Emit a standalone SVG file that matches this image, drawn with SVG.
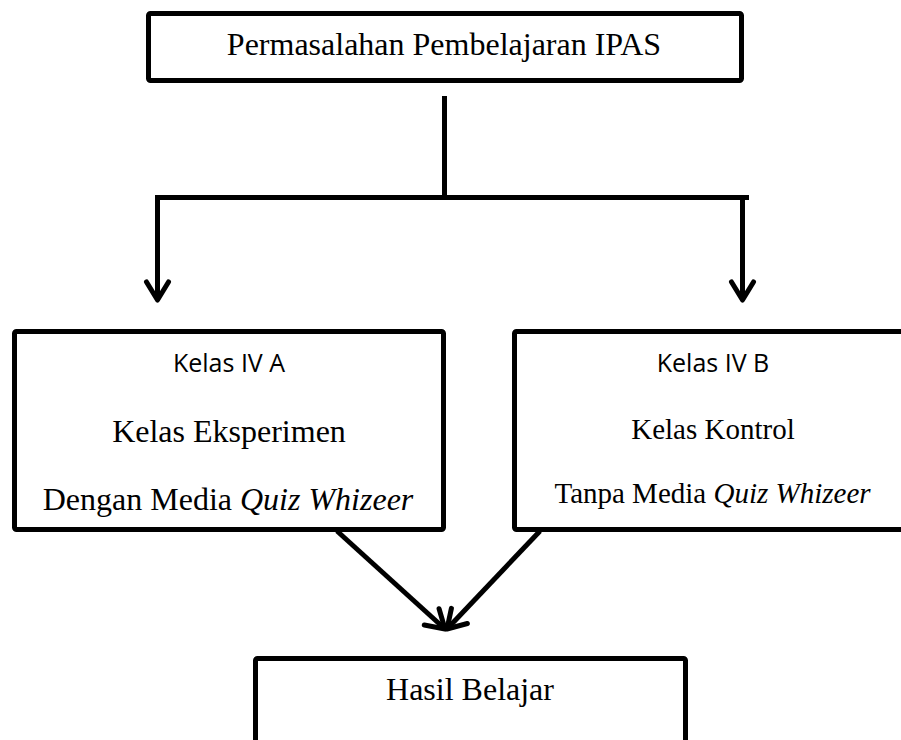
<svg xmlns="http://www.w3.org/2000/svg" width="901" height="740" viewBox="0 0 901 740">
  <style>
    .box { fill: #ffffff; stroke: #000000; stroke-width: 5; }
    .serif { font-family: "Liberation Serif", "Times New Roman", serif; fill: #000000; text-anchor: middle; }
    .sans { font-family: "Open Sans", "Liberation Sans", sans-serif; fill: #000000; text-anchor: middle; }
    .conn { fill: none; stroke: #000000; stroke-width: 5; }
  </style>
  <defs>
    <marker id="arr" markerUnits="userSpaceOnUse" markerWidth="40" markerHeight="40" viewBox="-25 -20 40 40" refX="0" refY="0" orient="auto">
      <path d="M-18,-11 L0,0 L-18,11" fill="none" stroke="#000000" stroke-width="5" stroke-linecap="round" stroke-linejoin="round"/>
    </marker>
  </defs>
  <rect width="901" height="740" fill="#ffffff"/>

  <g id="connectors">
    <line class="conn" x1="444.5" y1="96" x2="444.5" y2="197"/>
    <polyline class="conn" points="157.5,300 157.5,197.5 749,197.5"/>
    <line class="conn" x1="742.5" y1="197.5" x2="742.5" y2="300" marker-end="url(#arr)"/>
    <line class="conn" x1="157.5" y1="250" x2="157.5" y2="300" marker-end="url(#arr)"/>
    <line class="conn" x1="337" y1="531" x2="445" y2="629" marker-end="url(#arr)"/>
    <line class="conn" x1="540" y1="531" x2="447" y2="629" marker-end="url(#arr)"/>
  </g>

  <g id="node-permasalahan">
    <rect class="box" x="148.5" y="13.5" width="593" height="67" rx="2" stroke-width="4.5"/>
    <text class="serif" x="444" y="55" font-size="32">Permasalahan Pembelajaran IPAS</text>
  </g>

  <g id="node-kelas-iv-a">
    <rect class="box" x="14.5" y="331.5" width="429" height="198" rx="2"/>
    <text class="sans" x="229" y="372" font-size="25">Kelas IV A</text>
    <text class="serif" x="229" y="442" font-size="32">Kelas Eksperimen</text>
    <text class="serif" x="228" y="510" font-size="32">Dengan Media <tspan font-style="italic">Quiz Whizeer</tspan></text>
  </g>

  <g id="node-kelas-iv-b">
    <rect class="box" x="514.5" y="331.5" width="395" height="198" rx="2"/>
    <text class="sans" x="713" y="372" font-size="25">Kelas IV B</text>
    <text class="serif" x="713" y="439" font-size="29">Kelas Kontrol</text>
    <text class="serif" x="712.5" y="503" font-size="29">Tanpa Media <tspan font-style="italic">Quiz Whizeer</tspan></text>
  </g>

  <g id="node-hasil-belajar">
    <rect class="box" x="255.5" y="658.5" width="430" height="100" rx="2"/>
    <text class="serif" x="470" y="700" font-size="32">Hasil Belajar</text>
  </g>
</svg>
